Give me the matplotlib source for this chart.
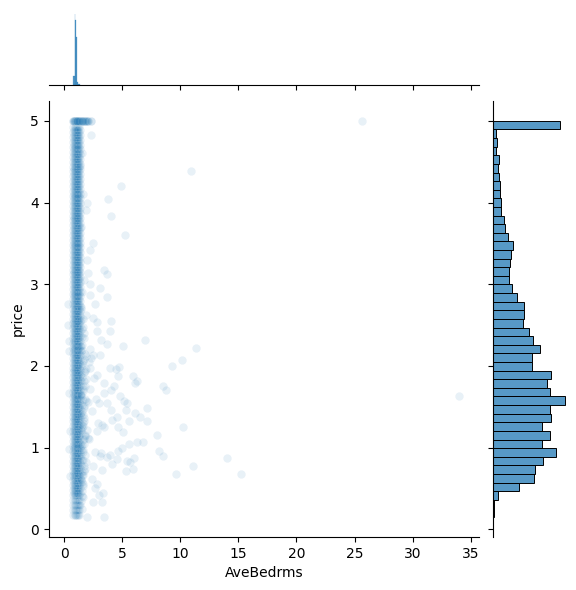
import numpy as np
import matplotlib
matplotlib.use("Agg")
import matplotlib.pyplot as plt
from matplotlib.colors import to_rgba

# ---------------- data ----------------
x_label = "AveBedrms"
y_label = "price"
x_ticks = [0, 5, 10, 15, 20, 25, 30, 35]
y_ticks = [0, 1, 2, 3, 4, 5]

# dense column of points (AveBedrms ~ 1) : x positions and price positions
core_x_a = [0.78, 0.88, 0.96, 1.02, 1.08, 1.15, 1.25]
core_y_a = [0.18, 0.24, 0.30, 0.36, 0.42, 0.48, 0.54, 0.60, 0.66, 0.72, 0.78, 0.84,
            0.90, 0.96, 1.02, 1.08, 1.14, 1.20, 1.26, 1.32, 1.38, 1.44, 1.50, 1.56,
            1.62, 1.68, 1.74, 1.80, 1.86, 1.92, 1.98, 2.04, 2.10, 2.16, 2.22, 2.28,
            2.34, 2.40, 2.46, 2.52, 2.58, 2.64, 2.70, 2.76, 2.82, 2.88, 2.94, 3.00,
            3.06, 3.12, 3.18, 3.24, 3.30, 3.36, 3.42, 3.48, 3.54, 3.60, 3.66, 3.72,
            3.78, 3.84, 3.90, 3.96, 4.02, 4.08, 4.14, 4.20, 4.26, 4.32, 4.38, 4.44,
            4.50, 4.56, 4.62, 4.68, 4.74, 4.80, 4.86, 4.92]
core_x_b = [0.83, 0.92, 0.99, 1.05, 1.11, 1.19, 1.34]
core_y_b = [0.45, 0.51, 0.57, 0.63, 0.69, 0.75, 0.81, 0.87, 0.93, 0.99, 1.05, 1.11,
            1.17, 1.23, 1.29, 1.35, 1.41, 1.47, 1.53, 1.59, 1.65, 1.71, 1.77, 1.83,
            1.89, 1.95, 2.01, 2.07, 2.13, 2.19, 2.25, 2.31, 2.37, 2.43, 2.49, 2.55,
            2.61, 2.67, 2.73, 2.79, 2.85, 2.91, 2.97, 3.03, 3.09, 3.15, 3.21, 3.27,
            3.33, 3.39, 3.45, 3.51, 3.57, 3.63, 3.69, 3.75, 3.81, 3.87, 3.93, 3.99,
            4.05, 4.11, 4.17, 4.23, 4.29, 4.35, 4.41, 4.47, 4.53, 4.59, 4.65, 4.71,
            4.77, 4.83, 4.89]

# lighter fringe right of the column (lower half)
fringe_x = [1.42, 1.55, 1.48, 1.62, 1.40, 1.52, 1.68, 1.45, 1.58, 1.75, 1.43, 1.50,
            1.64, 1.82, 1.47, 1.57, 1.71, 1.41, 1.53, 1.66, 1.90, 1.46, 1.60, 1.78,
            1.44, 1.54, 1.69, 1.49, 1.63, 1.85, 1.42, 1.56, 1.72, 1.51, 1.65, 1.45]
fringe_y = [0.35, 0.41, 0.47, 0.53, 0.60, 0.66, 0.72, 0.79, 0.85, 0.91, 0.97, 1.03,
            1.09, 1.15, 1.21, 1.27, 1.33, 1.39, 1.45, 1.51, 1.57, 1.63, 1.69, 1.75,
            1.81, 1.87, 1.93, 2.00, 2.06, 2.12, 2.18, 2.26, 2.34, 2.45, 2.58, 2.72]

# capped row at price = 5.0
cap_x = [0.75, 0.80, 0.85, 0.90, 0.95, 0.98, 1.00, 1.02, 1.05, 1.08, 1.10, 1.12,
         1.15, 1.20, 1.25, 1.30, 1.35, 1.40, 1.50, 1.55, 1.60, 1.70, 1.75, 1.85,
         1.95, 2.05, 2.30, 25.61]
cap_y = [5.0] * len(cap_x)

# scattered points around / away from the column
out_x = [10.92, 4.89, 3.74, 4.03, 5.26, 2.27, 1.93, 1.87, 2.45, 2.22, 2.02, 3.45,
         3.65, 2.22, 3.08, 2.19, 3.65, 2.67, 0.33, 0.35, 2.45, 2.85, 4.03, 3.94,
         2.80, 3.16, 3.65, 5.03, 6.98, 11.35, 2.19, 2.50, 3.05, 3.94, 4.74, 4.48,
         4.66, 5.95, 6.24, 6.07, 9.26, 10.11, 2.22, 2.82, 3.45, 4.31, 8.48, 8.77,
         4.03, 3.39, 4.80, 5.15, 5.38, 3.71, 3.00, 7.10, 4.03, 5.30, 6.07, 6.53,
         4.51, 7.16, 5.53, 4.08, 3.22, 3.39, 10.23, 4.63, 5.03, 7.97, 6.81, 6.24,
         5.60, 5.00, 4.60, 8.19, 8.48, 3.94, 3.65, 3.16, 4.52, 4.09, 5.38, 6.03,
         5.67, 5.32, 5.95, 9.63, 11.09, 3.22, 3.36, 3.00, 3.22, 3.45, 2.45, 1.93,
         2.62, 2.82, 34.04, 14.04, 15.25,
         0.43, 0.43, 0.40, 0.45, 0.42, 0.48,
         1.45, 1.55, 1.50, 1.62, 1.40, 1.70, 1.48, 1.58, 1.66, 1.44, 1.52, 1.75,
         1.42, 1.60, 1.85, 1.47, 1.56, 1.68, 1.80, 1.43, 1.53, 1.64, 1.90, 1.46,
         1.58, 1.72, 2.00, 1.49, 1.61, 1.78, 1.41, 1.54, 1.67, 1.95, 1.45, 1.57,
         1.38, 1.50, 1.62, 1.36, 1.48,
         1.52, 1.63, 1.74, 1.86, 1.44, 1.57, 1.69, 1.82, 1.95, 1.50, 1.61, 1.73,
         2.05, 1.47, 1.59, 1.71, 1.88, 2.10, 1.55, 1.66,
         2.35, 2.60, 2.15, 2.90, 2.40, 2.70, 2.25, 3.10, 2.55, 2.30, 2.85, 2.45]
out_y = [4.38, 4.20, 4.04, 3.83, 3.60, 4.83, 3.99, 3.91, 3.50, 3.42, 3.14, 3.18,
         3.13, 3.00, 2.95, 2.87, 2.84, 2.76, 2.76, 2.50, 2.59, 2.54, 2.55, 2.43,
         2.43, 2.32, 2.27, 2.25, 2.32, 2.22, 2.21, 2.13, 2.13, 1.98, 1.99, 1.96,
         1.88, 1.88, 1.81, 1.79, 2.00, 2.07, 1.98, 1.89, 1.79, 1.76, 1.75, 1.70,
         1.70, 1.67, 1.63, 1.57, 1.55, 1.55, 1.55, 1.48, 1.46, 1.46, 1.43, 1.38,
         1.37, 1.32, 1.33, 1.34, 1.28, 1.25, 1.25, 1.25, 1.19, 1.15, 1.07, 1.07,
         1.04, 0.99, 0.96, 0.96, 0.90, 0.91, 0.89, 0.93, 0.86, 0.80, 0.84, 0.87,
         0.83, 0.72, 0.74, 0.68, 0.77, 0.73, 0.44, 0.42, 0.34, 0.15, 0.33, 0.15,
         0.50, 0.56, 1.63, 0.87, 0.68,
         2.30, 2.18, 1.67, 1.20, 0.98, 0.65,
         0.62, 0.70, 0.85, 0.95, 1.02, 1.10, 1.18, 1.30, 1.36, 1.42, 1.52, 1.60,
         1.66, 1.72, 1.84, 1.90, 2.02, 2.08, 2.15, 2.24, 2.36, 2.48, 2.62, 2.70,
         0.55, 0.78, 1.12, 1.24, 1.58, 1.94, 2.56, 2.90, 3.05, 3.30, 3.70, 4.10,
         4.45, 4.60, 0.40, 0.30, 0.25,
         0.58, 0.66, 0.74, 0.82, 0.90, 0.97, 1.05, 1.14, 1.22, 1.28, 1.40, 1.48,
         1.56, 1.64, 1.75, 1.82, 1.96, 2.05, 2.20, 2.40,
         0.62, 0.95, 1.10, 1.30, 1.45, 1.60, 1.72, 0.90, 1.85, 2.10, 1.20, 0.78]

# marginal histogram of price (46 bins from 0.15 to 5.0), counts
price_lo, price_hi = 0.15, 5.0
price_counts = [5, 15, 75, 375, 600, 615, 735, 915, 720, 840, 720, 855, 840, 1050,
                840, 795, 855, 570, 570, 690, 585, 525, 435, 450, 450, 345, 270, 225,
                225, 240, 255, 285, 210, 165, 150, 120, 120, 105, 105, 90, 75, 90,
                40, 60, 45, 975]

# marginal histogram of AveBedrms (only the visible spike), bin edges and counts
bedrms_edges = [0.78, 0.92, 0.955, 0.99, 1.07, 1.18, 1.35]
bedrms_counts = [93, 700, 640, 470, 36, 10]

# ---------------- plotting ----------------
c0 = "#1f77b4"
fig = plt.figure(figsize=(5.76, 5.9), dpi=100)
W, H = 576.0, 590.0
ax = fig.add_axes([48.6 / W, (H - 536.9) / H, 430.4 / W, 435.9 / H])
ax_mx = fig.add_axes([48.6 / W, (H - 85.3) / H, 430.4 / W, 75.0 / H], sharex=ax)
ax_my = fig.add_axes([493.3 / W, (H - 536.9) / H, 75.0 / W, 435.9 / H], sharey=ax)

pts_x, pts_y = [], []
for xv in core_x_a:
    pts_x += [xv] * len(core_y_a)
    pts_y += core_y_a
for xv in core_x_b:
    pts_x += [xv] * len(core_y_b)
    pts_y += core_y_b
pts_x += fringe_x
pts_y += fringe_y
pts_x += cap_x + cap_x[:-1]
pts_y += cap_y + cap_y[:-1]
pts_x += out_x
pts_y += out_y

ax.scatter(pts_x, pts_y, s=36, color=c0, alpha=0.1, edgecolor="white",
           linewidths=0.5)

price_edges = np.linspace(price_lo, price_hi, len(price_counts) + 1)
ax_my.barh(price_edges[:-1], price_counts, height=np.diff(price_edges),
           align="edge", facecolor=to_rgba(c0, 0.75), edgecolor="black",
           linewidth=0.7)

be = np.array(bedrms_edges)
ax_mx.bar(be[:-1], bedrms_counts, width=np.diff(be), align="edge",
          facecolor=to_rgba(c0, 0.75), edgecolor=to_rgba(c0, 0.75), linewidth=0.2)

ax.set_xlabel(x_label)
ax.set_ylabel(y_label)
ax.set_xticks(x_ticks)
ax.set_yticks(y_ticks)
for s in ("top", "right"):
    ax.spines[s].set_visible(False)

# top marginal styling
for s in ("top", "right", "left"):
    ax_mx.spines[s].set_visible(False)
ax_mx.tick_params(axis="x", labelbottom=False)
ax_mx.tick_params(axis="y", left=False, labelleft=False)
ax_mx.set_ylim(0, max(bedrms_counts) * 1.05)

# right marginal styling
for s in ("top", "right", "bottom"):
    ax_my.spines[s].set_visible(False)
ax_my.tick_params(axis="y", labelleft=False)
ax_my.tick_params(axis="x", bottom=False, labelbottom=False)
ax_my.set_xlim(0, max(price_counts) * 1.05)

fig.savefig("out.png", dpi=100)
